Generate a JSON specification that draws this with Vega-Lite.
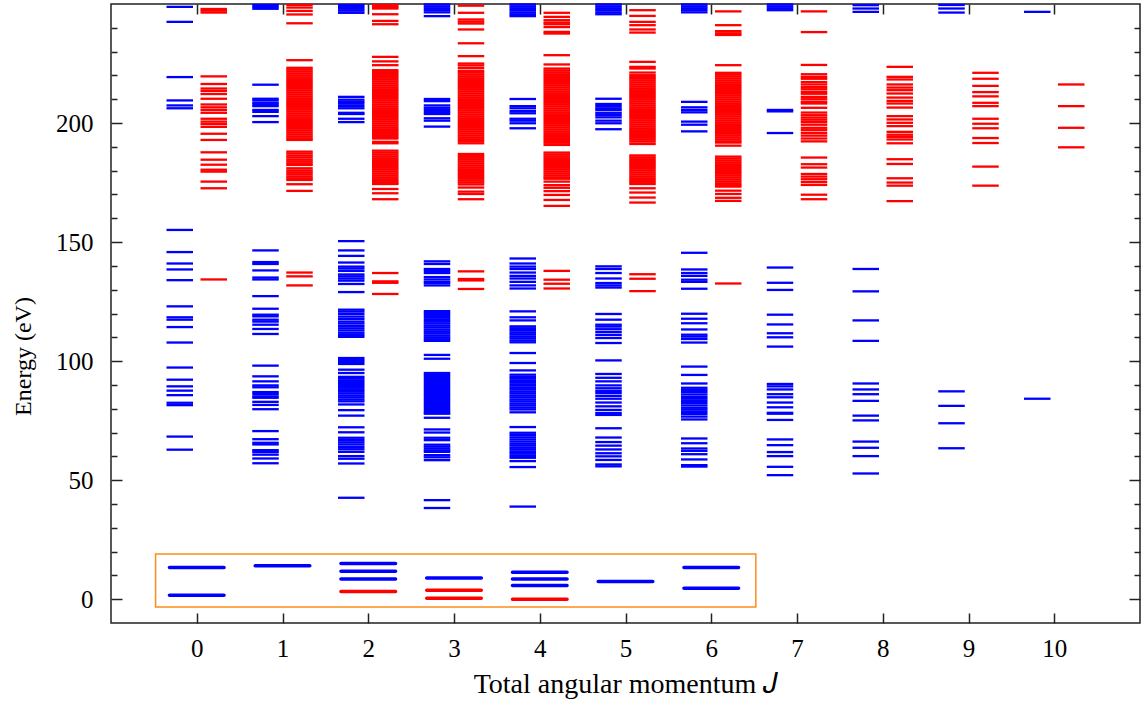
{
"$schema":"https://vega.github.io/schema/vega-lite/v6.json",
"width":1029,"height":619,
"autosize":{"type":"none"},
"padding":{"left":111,"top":4,"right":7,"bottom":81},
"config":{"view":{"stroke":"#222","strokeWidth":1.5},"font":"Liberation Serif",
"axis":{"labelFont":"Liberation Serif","titleFont":"Liberation Serif","labelFontSize":25,"titleFontSize":24,"titleFontWeight":"normal","labelColor":"#000","titleColor":"#000","tickColor":"#222","tickWidth":1.5,"domain":false,"grid":false}},
"datasets":{
"lv":[
{"J":0,"c":"b","E":248.8},{"J":0,"c":"b","E":242.5},{"J":0,"c":"b","E":219.3},{"J":0,"c":"b","E":209.5},{"J":0,"c":"b","E":207.4},{"J":0,"c":"b","E":206.2},{"J":0,"c":"b","E":155.1},{"J":0,"c":"b","E":145.8},{"J":0,"c":"b","E":141.0},{"J":0,"c":"b","E":138.5},{"J":0,"c":"b","E":134.0},{"J":0,"c":"b","E":123.0},{"J":0,"c":"b","E":118.4},{"J":0,"c":"b","E":117.4},{"J":0,"c":"b","E":114.3},{"J":0,"c":"b","E":107.8},{"J":0,"c":"b","E":97.3},{"J":0,"c":"b","E":92.2},{"J":0,"c":"b","E":89.4},{"J":0,"c":"b","E":87.6},{"J":0,"c":"b","E":85.7},{"J":0,"c":"b","E":82.5},{"J":0,"c":"b","E":81.5},{"J":0,"c":"b","E":68.3},{"J":0,"c":"b","E":62.8},
{"J":0,"c":"r","E":247.9},{"J":0,"c":"r","E":247.2},{"J":0,"c":"r","E":246.4},{"J":0,"c":"r","E":219.6},{"J":0,"c":"r","E":216.4},{"J":0,"c":"r","E":214.5},{"J":0,"c":"r","E":213.5},{"J":0,"c":"r","E":212.2},{"J":0,"c":"r","E":210.2},{"J":0,"c":"r","E":207.8},{"J":0,"c":"r","E":206.6},{"J":0,"c":"r","E":205.5},{"J":0,"c":"r","E":204.3},{"J":0,"c":"r","E":201.8},{"J":0,"c":"r","E":200.6},{"J":0,"c":"r","E":199.6},{"J":0,"c":"r","E":198.4},{"J":0,"c":"r","E":195.5},{"J":0,"c":"r","E":192.9},{"J":0,"c":"r","E":187.7},{"J":0,"c":"r","E":184.6},{"J":0,"c":"r","E":182.5},{"J":0,"c":"r","E":180.4},{"J":0,"c":"r","E":179.6},{"J":0,"c":"r","E":175.4},{"J":0,"c":"r","E":172.6},{"J":0,"c":"r","E":134.3},
{"J":1,"c":"b","E":249.6},{"J":1,"c":"b","E":248.8},{"J":1,"c":"b","E":248.0},{"J":1,"c":"b","E":216.1},{"J":1,"c":"b","E":210.2},{"J":1,"c":"b","E":209.5},{"J":1,"c":"b","E":208.5},{"J":1,"c":"b","E":207.8},{"J":1,"c":"b","E":207.1},{"J":1,"c":"b","E":205.5},{"J":1,"c":"b","E":204.7},{"J":1,"c":"b","E":202.9},{"J":1,"c":"b","E":200.4},{"J":1,"c":"b","E":146.5},{"J":1,"c":"b","E":141.6},{"J":1,"c":"b","E":140.8},{"J":1,"c":"b","E":138.1},{"J":1,"c":"b","E":135.1},{"J":1,"c":"b","E":134.3},{"J":1,"c":"b","E":127.3},{"J":1,"c":"b","E":122.0},{"J":1,"c":"b","E":119.5},{"J":1,"c":"b","E":118.8},{"J":1,"c":"b","E":117.4},{"J":1,"c":"b","E":116.6},{"J":1,"c":"b","E":115.3},{"J":1,"c":"b","E":113.5},{"J":1,"c":"b","E":111.4},{"J":1,"c":"b","E":98.1},{"J":1,"c":"b","E":93.6},{"J":1,"c":"b","E":91.5},{"J":1,"c":"b","E":89.8},{"J":1,"c":"b","E":89.0},{"J":1,"c":"b","E":87.0},{"J":1,"c":"b","E":86.2},{"J":1,"c":"b","E":85.2},{"J":1,"c":"b","E":84.6},{"J":1,"c":"b","E":82.9},{"J":1,"c":"b","E":81.6},{"J":1,"c":"b","E":79.8},{"J":1,"c":"b","E":70.6},{"J":1,"c":"b","E":67.2},{"J":1,"c":"b","E":65.7},{"J":1,"c":"b","E":65.0},{"J":1,"c":"b","E":62.6},{"J":1,"c":"b","E":61.8},{"J":1,"c":"b","E":60.7},{"J":1,"c":"b","E":59.1},{"J":1,"c":"b","E":57.1},
{"J":1,"c":"r","E":249.6},{"J":1,"c":"r","E":248.5},{"J":1,"c":"r","E":247.1},{"J":1,"c":"r","E":245.6},{"J":1,"c":"r","E":241.9},{"J":1,"c":"r","E":226.4},{"J":1,"c":"r","E":223.2},{"J":1,"c":"r","E":222.4},{"J":1,"c":"r","E":221.6},{"J":1,"c":"r","E":220.8},{"J":1,"c":"r","E":220.0},{"J":1,"c":"r","E":219.2},{"J":1,"c":"r","E":218.4},{"J":1,"c":"r","E":217.6},{"J":1,"c":"r","E":216.8},{"J":1,"c":"r","E":216.0},{"J":1,"c":"r","E":215.2},{"J":1,"c":"r","E":214.4},{"J":1,"c":"r","E":213.6},{"J":1,"c":"r","E":212.8},{"J":1,"c":"r","E":212.0},{"J":1,"c":"r","E":211.2},{"J":1,"c":"r","E":210.4},{"J":1,"c":"r","E":209.6},{"J":1,"c":"r","E":208.8},{"J":1,"c":"r","E":208.0},{"J":1,"c":"r","E":207.2},{"J":1,"c":"r","E":206.4},{"J":1,"c":"r","E":205.6},{"J":1,"c":"r","E":204.8},{"J":1,"c":"r","E":204.0},{"J":1,"c":"r","E":203.2},{"J":1,"c":"r","E":202.4},{"J":1,"c":"r","E":201.6},{"J":1,"c":"r","E":200.8},{"J":1,"c":"r","E":200.0},{"J":1,"c":"r","E":199.2},{"J":1,"c":"r","E":198.4},{"J":1,"c":"r","E":197.6},{"J":1,"c":"r","E":196.8},{"J":1,"c":"r","E":196.0},{"J":1,"c":"r","E":195.2},{"J":1,"c":"r","E":194.4},{"J":1,"c":"r","E":193.6},{"J":1,"c":"r","E":192.9},{"J":1,"c":"r","E":188.0},{"J":1,"c":"r","E":187.2},{"J":1,"c":"r","E":186.3},{"J":1,"c":"r","E":185.5},{"J":1,"c":"r","E":184.6},{"J":1,"c":"r","E":183.8},{"J":1,"c":"r","E":183.0},{"J":1,"c":"r","E":182.4},{"J":1,"c":"r","E":181.0},{"J":1,"c":"r","E":180.1},{"J":1,"c":"r","E":179.3},{"J":1,"c":"r","E":178.5},{"J":1,"c":"r","E":177.6},{"J":1,"c":"r","E":176.8},{"J":1,"c":"r","E":176.1},{"J":1,"c":"r","E":174.3},{"J":1,"c":"r","E":171.5},{"J":1,"c":"r","E":137.2},{"J":1,"c":"r","E":135.6},{"J":1,"c":"r","E":131.8},
{"J":2,"c":"b","E":249.6},{"J":2,"c":"b","E":248.8},{"J":2,"c":"b","E":248.0},{"J":2,"c":"b","E":247.2},{"J":2,"c":"b","E":246.3},{"J":2,"c":"b","E":211.0},{"J":2,"c":"b","E":209.8},{"J":2,"c":"b","E":208.9},{"J":2,"c":"b","E":208.1},{"J":2,"c":"b","E":207.1},{"J":2,"c":"b","E":206.2},{"J":2,"c":"b","E":204.3},{"J":2,"c":"b","E":203.8},{"J":2,"c":"b","E":201.8},{"J":2,"c":"b","E":200.4},{"J":2,"c":"b","E":150.4},{"J":2,"c":"b","E":146.5},{"J":2,"c":"b","E":144.2},{"J":2,"c":"b","E":141.4},{"J":2,"c":"b","E":139.7},{"J":2,"c":"b","E":138.9},{"J":2,"c":"b","E":137.9},{"J":2,"c":"b","E":136.4},{"J":2,"c":"b","E":135.6},{"J":2,"c":"b","E":134.7},{"J":2,"c":"b","E":133.8},{"J":2,"c":"b","E":132.4},{"J":2,"c":"b","E":129.0},{"J":2,"c":"b","E":121.6},{"J":2,"c":"b","E":120.8},{"J":2,"c":"b","E":119.8},{"J":2,"c":"b","E":118.7},{"J":2,"c":"b","E":117.7},{"J":2,"c":"b","E":116.6},{"J":2,"c":"b","E":115.8},{"J":2,"c":"b","E":114.8},{"J":2,"c":"b","E":113.8},{"J":2,"c":"b","E":112.9},{"J":2,"c":"b","E":111.9},{"J":2,"c":"b","E":111.0},{"J":2,"c":"b","E":110.2},{"J":2,"c":"b","E":101.3},{"J":2,"c":"b","E":100.5},{"J":2,"c":"b","E":99.7},{"J":2,"c":"b","E":98.8},{"J":2,"c":"b","E":96.4},{"J":2,"c":"b","E":95.0},{"J":2,"c":"b","E":93.4},{"J":2,"c":"b","E":92.6},{"J":2,"c":"b","E":91.7},{"J":2,"c":"b","E":90.8},{"J":2,"c":"b","E":90.0},{"J":2,"c":"b","E":89.1},{"J":2,"c":"b","E":88.2},{"J":2,"c":"b","E":87.4},{"J":2,"c":"b","E":86.5},{"J":2,"c":"b","E":85.6},{"J":2,"c":"b","E":84.8},{"J":2,"c":"b","E":83.9},{"J":2,"c":"b","E":83.1},{"J":2,"c":"b","E":81.8},{"J":2,"c":"b","E":79.4},{"J":2,"c":"b","E":77.1},{"J":2,"c":"b","E":72.2},{"J":2,"c":"b","E":70.1},{"J":2,"c":"b","E":67.8},{"J":2,"c":"b","E":66.8},{"J":2,"c":"b","E":65.9},{"J":2,"c":"b","E":65.0},{"J":2,"c":"b","E":64.0},{"J":2,"c":"b","E":63.0},{"J":2,"c":"b","E":61.9},{"J":2,"c":"b","E":60.1},{"J":2,"c":"b","E":59.0},{"J":2,"c":"b","E":57.0},{"J":2,"c":"b","E":42.6},
{"J":2,"c":"r","E":249.6},{"J":2,"c":"r","E":248.8},{"J":2,"c":"r","E":248.1},{"J":2,"c":"r","E":245.7},{"J":2,"c":"r","E":242.9},{"J":2,"c":"r","E":241.5},{"J":2,"c":"r","E":227.8},{"J":2,"c":"r","E":225.9},{"J":2,"c":"r","E":224.3},{"J":2,"c":"r","E":222.2},{"J":2,"c":"r","E":221.4},{"J":2,"c":"r","E":220.6},{"J":2,"c":"r","E":219.8},{"J":2,"c":"r","E":219.0},{"J":2,"c":"r","E":218.2},{"J":2,"c":"r","E":217.4},{"J":2,"c":"r","E":216.6},{"J":2,"c":"r","E":215.8},{"J":2,"c":"r","E":215.0},{"J":2,"c":"r","E":214.2},{"J":2,"c":"r","E":213.4},{"J":2,"c":"r","E":212.6},{"J":2,"c":"r","E":211.8},{"J":2,"c":"r","E":211.0},{"J":2,"c":"r","E":210.2},{"J":2,"c":"r","E":209.4},{"J":2,"c":"r","E":208.6},{"J":2,"c":"r","E":207.8},{"J":2,"c":"r","E":207.0},{"J":2,"c":"r","E":206.2},{"J":2,"c":"r","E":205.4},{"J":2,"c":"r","E":204.6},{"J":2,"c":"r","E":203.8},{"J":2,"c":"r","E":203.0},{"J":2,"c":"r","E":202.2},{"J":2,"c":"r","E":201.4},{"J":2,"c":"r","E":200.6},{"J":2,"c":"r","E":199.8},{"J":2,"c":"r","E":199.0},{"J":2,"c":"r","E":198.2},{"J":2,"c":"r","E":197.4},{"J":2,"c":"r","E":196.6},{"J":2,"c":"r","E":195.8},{"J":2,"c":"r","E":195.0},{"J":2,"c":"r","E":194.2},{"J":2,"c":"r","E":193.5},{"J":2,"c":"r","E":192.1},{"J":2,"c":"r","E":191.5},{"J":2,"c":"r","E":188.4},{"J":2,"c":"r","E":187.6},{"J":2,"c":"r","E":186.8},{"J":2,"c":"r","E":186.0},{"J":2,"c":"r","E":185.2},{"J":2,"c":"r","E":184.4},{"J":2,"c":"r","E":183.6},{"J":2,"c":"r","E":182.8},{"J":2,"c":"r","E":182.0},{"J":2,"c":"r","E":181.2},{"J":2,"c":"r","E":180.4},{"J":2,"c":"r","E":179.6},{"J":2,"c":"r","E":178.8},{"J":2,"c":"r","E":178.0},{"J":2,"c":"r","E":177.2},{"J":2,"c":"r","E":176.4},{"J":2,"c":"r","E":175.6},{"J":2,"c":"r","E":174.8},{"J":2,"c":"r","E":174.4},{"J":2,"c":"r","E":172.3},{"J":2,"c":"r","E":170.5},{"J":2,"c":"r","E":168.0},{"J":2,"c":"r","E":137.0},{"J":2,"c":"r","E":133.5},{"J":2,"c":"r","E":132.9},{"J":2,"c":"r","E":128.2},
{"J":3,"c":"b","E":249.8},{"J":3,"c":"b","E":249.0},{"J":3,"c":"b","E":248.2},{"J":3,"c":"b","E":247.4},{"J":3,"c":"b","E":246.5},{"J":3,"c":"b","E":244.9},{"J":3,"c":"b","E":210.1},{"J":3,"c":"b","E":209.2},{"J":3,"c":"b","E":207.4},{"J":3,"c":"b","E":206.4},{"J":3,"c":"b","E":205.5},{"J":3,"c":"b","E":204.6},{"J":3,"c":"b","E":203.8},{"J":3,"c":"b","E":202.0},{"J":3,"c":"b","E":201.0},{"J":3,"c":"b","E":198.5},{"J":3,"c":"b","E":141.9},{"J":3,"c":"b","E":140.8},{"J":3,"c":"b","E":138.7},{"J":3,"c":"b","E":137.9},{"J":3,"c":"b","E":137.0},{"J":3,"c":"b","E":135.3},{"J":3,"c":"b","E":134.3},{"J":3,"c":"b","E":133.3},{"J":3,"c":"b","E":132.8},{"J":3,"c":"b","E":131.8},{"J":3,"c":"b","E":121.0},{"J":3,"c":"b","E":120.2},{"J":3,"c":"b","E":119.4},{"J":3,"c":"b","E":118.5},{"J":3,"c":"b","E":117.6},{"J":3,"c":"b","E":116.8},{"J":3,"c":"b","E":115.9},{"J":3,"c":"b","E":115.0},{"J":3,"c":"b","E":114.2},{"J":3,"c":"b","E":113.3},{"J":3,"c":"b","E":112.5},{"J":3,"c":"b","E":111.7},{"J":3,"c":"b","E":110.8},{"J":3,"c":"b","E":110.0},{"J":3,"c":"b","E":109.2},{"J":3,"c":"b","E":108.5},{"J":3,"c":"b","E":102.6},{"J":3,"c":"b","E":101.0},{"J":3,"c":"b","E":95.0},{"J":3,"c":"b","E":94.2},{"J":3,"c":"b","E":93.4},{"J":3,"c":"b","E":92.5},{"J":3,"c":"b","E":91.7},{"J":3,"c":"b","E":90.8},{"J":3,"c":"b","E":90.0},{"J":3,"c":"b","E":89.2},{"J":3,"c":"b","E":88.3},{"J":3,"c":"b","E":87.5},{"J":3,"c":"b","E":86.6},{"J":3,"c":"b","E":85.8},{"J":3,"c":"b","E":85.0},{"J":3,"c":"b","E":84.1},{"J":3,"c":"b","E":83.3},{"J":3,"c":"b","E":82.4},{"J":3,"c":"b","E":81.6},{"J":3,"c":"b","E":80.8},{"J":3,"c":"b","E":79.9},{"J":3,"c":"b","E":79.1},{"J":3,"c":"b","E":78.3},{"J":3,"c":"b","E":77.9},{"J":3,"c":"b","E":76.2},{"J":3,"c":"b","E":71.3},{"J":3,"c":"b","E":70.0},{"J":3,"c":"b","E":67.8},{"J":3,"c":"b","E":66.8},{"J":3,"c":"b","E":64.9},{"J":3,"c":"b","E":64.1},{"J":3,"c":"b","E":63.3},{"J":3,"c":"b","E":62.5},{"J":3,"c":"b","E":61.9},{"J":3,"c":"b","E":60.5},{"J":3,"c":"b","E":59.6},{"J":3,"c":"b","E":58.4},{"J":3,"c":"b","E":41.6},{"J":3,"c":"b","E":38.3},
{"J":3,"c":"r","E":249.3},{"J":3,"c":"r","E":246.3},{"J":3,"c":"r","E":243.5},{"J":3,"c":"r","E":242.6},{"J":3,"c":"r","E":241.8},{"J":3,"c":"r","E":239.3},{"J":3,"c":"r","E":233.5},{"J":3,"c":"r","E":228.1},{"J":3,"c":"r","E":225.0},{"J":3,"c":"r","E":224.2},{"J":3,"c":"r","E":223.1},{"J":3,"c":"r","E":221.9},{"J":3,"c":"r","E":221.2},{"J":3,"c":"r","E":220.4},{"J":3,"c":"r","E":219.6},{"J":3,"c":"r","E":218.8},{"J":3,"c":"r","E":218.0},{"J":3,"c":"r","E":217.2},{"J":3,"c":"r","E":216.4},{"J":3,"c":"r","E":215.6},{"J":3,"c":"r","E":214.8},{"J":3,"c":"r","E":214.0},{"J":3,"c":"r","E":213.2},{"J":3,"c":"r","E":212.4},{"J":3,"c":"r","E":211.6},{"J":3,"c":"r","E":210.8},{"J":3,"c":"r","E":210.0},{"J":3,"c":"r","E":209.2},{"J":3,"c":"r","E":208.4},{"J":3,"c":"r","E":207.6},{"J":3,"c":"r","E":206.8},{"J":3,"c":"r","E":206.0},{"J":3,"c":"r","E":205.2},{"J":3,"c":"r","E":204.4},{"J":3,"c":"r","E":203.6},{"J":3,"c":"r","E":202.8},{"J":3,"c":"r","E":202.0},{"J":3,"c":"r","E":201.2},{"J":3,"c":"r","E":200.4},{"J":3,"c":"r","E":199.6},{"J":3,"c":"r","E":198.8},{"J":3,"c":"r","E":198.0},{"J":3,"c":"r","E":197.2},{"J":3,"c":"r","E":196.4},{"J":3,"c":"r","E":195.6},{"J":3,"c":"r","E":194.8},{"J":3,"c":"r","E":194.0},{"J":3,"c":"r","E":193.2},{"J":3,"c":"r","E":192.4},{"J":3,"c":"r","E":191.5},{"J":3,"c":"r","E":187.0},{"J":3,"c":"r","E":186.2},{"J":3,"c":"r","E":185.4},{"J":3,"c":"r","E":184.6},{"J":3,"c":"r","E":183.8},{"J":3,"c":"r","E":183.0},{"J":3,"c":"r","E":182.2},{"J":3,"c":"r","E":181.4},{"J":3,"c":"r","E":180.6},{"J":3,"c":"r","E":179.8},{"J":3,"c":"r","E":179.0},{"J":3,"c":"r","E":178.2},{"J":3,"c":"r","E":177.4},{"J":3,"c":"r","E":176.6},{"J":3,"c":"r","E":175.8},{"J":3,"c":"r","E":175.0},{"J":3,"c":"r","E":174.2},{"J":3,"c":"r","E":172.9},{"J":3,"c":"r","E":171.2},{"J":3,"c":"r","E":170.2},{"J":3,"c":"r","E":168.0},{"J":3,"c":"r","E":137.7},{"J":3,"c":"r","E":134.5},{"J":3,"c":"r","E":133.9},{"J":3,"c":"r","E":130.3},
{"J":4,"c":"b","E":249.8},{"J":4,"c":"b","E":249.0},{"J":4,"c":"b","E":248.2},{"J":4,"c":"b","E":247.4},{"J":4,"c":"b","E":246.5},{"J":4,"c":"b","E":245.7},{"J":4,"c":"b","E":244.9},{"J":4,"c":"b","E":210.1},{"J":4,"c":"b","E":207.1},{"J":4,"c":"b","E":206.2},{"J":4,"c":"b","E":205.0},{"J":4,"c":"b","E":204.1},{"J":4,"c":"b","E":201.8},{"J":4,"c":"b","E":201.0},{"J":4,"c":"b","E":199.9},{"J":4,"c":"b","E":197.8},{"J":4,"c":"b","E":143.1},{"J":4,"c":"b","E":141.0},{"J":4,"c":"b","E":139.7},{"J":4,"c":"b","E":138.7},{"J":4,"c":"b","E":137.2},{"J":4,"c":"b","E":135.8},{"J":4,"c":"b","E":134.7},{"J":4,"c":"b","E":133.3},{"J":4,"c":"b","E":131.8},{"J":4,"c":"b","E":130.5},{"J":4,"c":"b","E":120.9},{"J":4,"c":"b","E":118.4},{"J":4,"c":"b","E":117.1},{"J":4,"c":"b","E":114.6},{"J":4,"c":"b","E":113.8},{"J":4,"c":"b","E":113.0},{"J":4,"c":"b","E":112.1},{"J":4,"c":"b","E":111.3},{"J":4,"c":"b","E":110.4},{"J":4,"c":"b","E":109.6},{"J":4,"c":"b","E":108.7},{"J":4,"c":"b","E":107.9},{"J":4,"c":"b","E":103.4},{"J":4,"c":"b","E":99.2},{"J":4,"c":"b","E":96.1},{"J":4,"c":"b","E":94.3},{"J":4,"c":"b","E":93.4},{"J":4,"c":"b","E":92.6},{"J":4,"c":"b","E":91.7},{"J":4,"c":"b","E":90.9},{"J":4,"c":"b","E":89.9},{"J":4,"c":"b","E":89.0},{"J":4,"c":"b","E":88.2},{"J":4,"c":"b","E":87.3},{"J":4,"c":"b","E":86.5},{"J":4,"c":"b","E":85.6},{"J":4,"c":"b","E":84.8},{"J":4,"c":"b","E":83.9},{"J":4,"c":"b","E":83.1},{"J":4,"c":"b","E":82.2},{"J":4,"c":"b","E":81.4},{"J":4,"c":"b","E":80.5},{"J":4,"c":"b","E":79.7},{"J":4,"c":"b","E":78.5},{"J":4,"c":"b","E":72.3},{"J":4,"c":"b","E":69.9},{"J":4,"c":"b","E":69.0},{"J":4,"c":"b","E":68.0},{"J":4,"c":"b","E":67.1},{"J":4,"c":"b","E":66.2},{"J":4,"c":"b","E":65.3},{"J":4,"c":"b","E":64.5},{"J":4,"c":"b","E":63.6},{"J":4,"c":"b","E":62.8},{"J":4,"c":"b","E":61.9},{"J":4,"c":"b","E":61.1},{"J":4,"c":"b","E":60.2},{"J":4,"c":"b","E":59.4},{"J":4,"c":"b","E":58.0},{"J":4,"c":"b","E":55.5},{"J":4,"c":"b","E":38.9},
{"J":4,"c":"r","E":246.3},{"J":4,"c":"r","E":244.6},{"J":4,"c":"r","E":243.2},{"J":4,"c":"r","E":242.2},{"J":4,"c":"r","E":241.5},{"J":4,"c":"r","E":240.3},{"J":4,"c":"r","E":238.3},{"J":4,"c":"r","E":237.6},{"J":4,"c":"r","E":228.5},{"J":4,"c":"r","E":224.6},{"J":4,"c":"r","E":222.9},{"J":4,"c":"r","E":222.1},{"J":4,"c":"r","E":221.3},{"J":4,"c":"r","E":220.5},{"J":4,"c":"r","E":219.7},{"J":4,"c":"r","E":218.9},{"J":4,"c":"r","E":218.1},{"J":4,"c":"r","E":217.3},{"J":4,"c":"r","E":216.5},{"J":4,"c":"r","E":215.7},{"J":4,"c":"r","E":214.9},{"J":4,"c":"r","E":214.1},{"J":4,"c":"r","E":213.3},{"J":4,"c":"r","E":212.5},{"J":4,"c":"r","E":211.7},{"J":4,"c":"r","E":210.9},{"J":4,"c":"r","E":210.1},{"J":4,"c":"r","E":209.3},{"J":4,"c":"r","E":208.5},{"J":4,"c":"r","E":207.7},{"J":4,"c":"r","E":206.9},{"J":4,"c":"r","E":206.1},{"J":4,"c":"r","E":205.3},{"J":4,"c":"r","E":204.5},{"J":4,"c":"r","E":203.7},{"J":4,"c":"r","E":202.9},{"J":4,"c":"r","E":202.1},{"J":4,"c":"r","E":201.3},{"J":4,"c":"r","E":200.5},{"J":4,"c":"r","E":199.7},{"J":4,"c":"r","E":198.9},{"J":4,"c":"r","E":198.1},{"J":4,"c":"r","E":197.3},{"J":4,"c":"r","E":196.5},{"J":4,"c":"r","E":195.7},{"J":4,"c":"r","E":194.9},{"J":4,"c":"r","E":194.1},{"J":4,"c":"r","E":193.3},{"J":4,"c":"r","E":192.5},{"J":4,"c":"r","E":191.7},{"J":4,"c":"r","E":190.8},{"J":4,"c":"r","E":187.6},{"J":4,"c":"r","E":186.8},{"J":4,"c":"r","E":186.0},{"J":4,"c":"r","E":185.2},{"J":4,"c":"r","E":184.4},{"J":4,"c":"r","E":183.6},{"J":4,"c":"r","E":182.8},{"J":4,"c":"r","E":182.0},{"J":4,"c":"r","E":181.2},{"J":4,"c":"r","E":180.4},{"J":4,"c":"r","E":179.6},{"J":4,"c":"r","E":178.8},{"J":4,"c":"r","E":178.0},{"J":4,"c":"r","E":177.2},{"J":4,"c":"r","E":176.6},{"J":4,"c":"r","E":175.4},{"J":4,"c":"r","E":173.9},{"J":4,"c":"r","E":172.8},{"J":4,"c":"r","E":171.4},{"J":4,"c":"r","E":169.8},{"J":4,"c":"r","E":167.7},{"J":4,"c":"r","E":165.2},{"J":4,"c":"r","E":137.9},{"J":4,"c":"r","E":134.2},{"J":4,"c":"r","E":132.5},{"J":4,"c":"r","E":130.5},
{"J":5,"c":"b","E":249.8},{"J":5,"c":"b","E":249.0},{"J":5,"c":"b","E":248.2},{"J":5,"c":"b","E":247.4},{"J":5,"c":"b","E":246.5},{"J":5,"c":"b","E":245.7},{"J":5,"c":"b","E":210.2},{"J":5,"c":"b","E":208.0},{"J":5,"c":"b","E":207.1},{"J":5,"c":"b","E":206.2},{"J":5,"c":"b","E":205.5},{"J":5,"c":"b","E":204.3},{"J":5,"c":"b","E":203.4},{"J":5,"c":"b","E":202.4},{"J":5,"c":"b","E":201.0},{"J":5,"c":"b","E":199.9},{"J":5,"c":"b","E":197.4},{"J":5,"c":"b","E":139.8},{"J":5,"c":"b","E":138.7},{"J":5,"c":"b","E":137.0},{"J":5,"c":"b","E":134.7},{"J":5,"c":"b","E":132.8},{"J":5,"c":"b","E":131.8},{"J":5,"c":"b","E":130.9},{"J":5,"c":"b","E":119.8},{"J":5,"c":"b","E":117.4},{"J":5,"c":"b","E":115.3},{"J":5,"c":"b","E":114.5},{"J":5,"c":"b","E":113.4},{"J":5,"c":"b","E":112.2},{"J":5,"c":"b","E":111.0},{"J":5,"c":"b","E":109.7},{"J":5,"c":"b","E":107.6},{"J":5,"c":"b","E":100.3},{"J":5,"c":"b","E":94.6},{"J":5,"c":"b","E":93.0},{"J":5,"c":"b","E":91.5},{"J":5,"c":"b","E":89.8},{"J":5,"c":"b","E":88.6},{"J":5,"c":"b","E":87.5},{"J":5,"c":"b","E":86.6},{"J":5,"c":"b","E":85.4},{"J":5,"c":"b","E":84.2},{"J":5,"c":"b","E":82.6},{"J":5,"c":"b","E":81.0},{"J":5,"c":"b","E":79.5},{"J":5,"c":"b","E":78.2},{"J":5,"c":"b","E":77.4},{"J":5,"c":"b","E":71.8},{"J":5,"c":"b","E":67.9},{"J":5,"c":"b","E":66.0},{"J":5,"c":"b","E":64.5},{"J":5,"c":"b","E":62.9},{"J":5,"c":"b","E":61.3},{"J":5,"c":"b","E":60.0},{"J":5,"c":"b","E":58.5},{"J":5,"c":"b","E":56.6},{"J":5,"c":"b","E":55.8},
{"J":5,"c":"r","E":247.4},{"J":5,"c":"r","E":245.0},{"J":5,"c":"r","E":242.5},{"J":5,"c":"r","E":241.1},{"J":5,"c":"r","E":239.3},{"J":5,"c":"r","E":238.0},{"J":5,"c":"r","E":225.7},{"J":5,"c":"r","E":223.6},{"J":5,"c":"r","E":222.9},{"J":5,"c":"r","E":221.2},{"J":5,"c":"r","E":220.1},{"J":5,"c":"r","E":219.4},{"J":5,"c":"r","E":218.6},{"J":5,"c":"r","E":217.8},{"J":5,"c":"r","E":217.0},{"J":5,"c":"r","E":216.2},{"J":5,"c":"r","E":215.4},{"J":5,"c":"r","E":214.6},{"J":5,"c":"r","E":213.8},{"J":5,"c":"r","E":213.0},{"J":5,"c":"r","E":212.2},{"J":5,"c":"r","E":211.4},{"J":5,"c":"r","E":210.6},{"J":5,"c":"r","E":209.8},{"J":5,"c":"r","E":209.0},{"J":5,"c":"r","E":208.2},{"J":5,"c":"r","E":207.4},{"J":5,"c":"r","E":206.6},{"J":5,"c":"r","E":205.8},{"J":5,"c":"r","E":205.0},{"J":5,"c":"r","E":204.2},{"J":5,"c":"r","E":203.4},{"J":5,"c":"r","E":202.6},{"J":5,"c":"r","E":201.8},{"J":5,"c":"r","E":201.0},{"J":5,"c":"r","E":200.2},{"J":5,"c":"r","E":199.4},{"J":5,"c":"r","E":198.6},{"J":5,"c":"r","E":197.8},{"J":5,"c":"r","E":197.0},{"J":5,"c":"r","E":196.2},{"J":5,"c":"r","E":195.4},{"J":5,"c":"r","E":194.6},{"J":5,"c":"r","E":193.8},{"J":5,"c":"r","E":193.0},{"J":5,"c":"r","E":192.2},{"J":5,"c":"r","E":191.2},{"J":5,"c":"r","E":186.4},{"J":5,"c":"r","E":185.6},{"J":5,"c":"r","E":184.8},{"J":5,"c":"r","E":184.0},{"J":5,"c":"r","E":183.2},{"J":5,"c":"r","E":182.4},{"J":5,"c":"r","E":181.6},{"J":5,"c":"r","E":180.8},{"J":5,"c":"r","E":180.0},{"J":5,"c":"r","E":179.2},{"J":5,"c":"r","E":178.4},{"J":5,"c":"r","E":177.6},{"J":5,"c":"r","E":176.8},{"J":5,"c":"r","E":176.0},{"J":5,"c":"r","E":175.2},{"J":5,"c":"r","E":174.4},{"J":5,"c":"r","E":172.6},{"J":5,"c":"r","E":170.8},{"J":5,"c":"r","E":168.7},{"J":5,"c":"r","E":166.6},{"J":5,"c":"r","E":136.5},{"J":5,"c":"r","E":134.6},{"J":5,"c":"r","E":129.4},
{"J":6,"c":"b","E":249.8},{"J":6,"c":"b","E":249.0},{"J":6,"c":"b","E":248.2},{"J":6,"c":"b","E":247.4},{"J":6,"c":"b","E":246.5},{"J":6,"c":"b","E":208.9},{"J":6,"c":"b","E":206.6},{"J":6,"c":"b","E":205.5},{"J":6,"c":"b","E":204.5},{"J":6,"c":"b","E":200.6},{"J":6,"c":"b","E":199.3},{"J":6,"c":"b","E":196.5},{"J":6,"c":"b","E":145.5},{"J":6,"c":"b","E":138.5},{"J":6,"c":"b","E":137.0},{"J":6,"c":"b","E":135.8},{"J":6,"c":"b","E":134.2},{"J":6,"c":"b","E":133.3},{"J":6,"c":"b","E":130.4},{"J":6,"c":"b","E":119.9},{"J":6,"c":"b","E":117.8},{"J":6,"c":"b","E":115.9},{"J":6,"c":"b","E":113.3},{"J":6,"c":"b","E":111.1},{"J":6,"c":"b","E":110.3},{"J":6,"c":"b","E":109.3},{"J":6,"c":"b","E":107.8},{"J":6,"c":"b","E":97.7},{"J":6,"c":"b","E":94.2},{"J":6,"c":"b","E":90.6},{"J":6,"c":"b","E":88.8},{"J":6,"c":"b","E":87.9},{"J":6,"c":"b","E":87.0},{"J":6,"c":"b","E":86.0},{"J":6,"c":"b","E":85.0},{"J":6,"c":"b","E":84.2},{"J":6,"c":"b","E":83.3},{"J":6,"c":"b","E":82.4},{"J":6,"c":"b","E":81.4},{"J":6,"c":"b","E":80.4},{"J":6,"c":"b","E":79.6},{"J":6,"c":"b","E":78.7},{"J":6,"c":"b","E":77.8},{"J":6,"c":"b","E":76.7},{"J":6,"c":"b","E":75.5},{"J":6,"c":"b","E":67.5},{"J":6,"c":"b","E":65.5},{"J":6,"c":"b","E":63.3},{"J":6,"c":"b","E":62.3},{"J":6,"c":"b","E":60.9},{"J":6,"c":"b","E":58.7},{"J":6,"c":"b","E":56.3},{"J":6,"c":"b","E":55.7},
{"J":6,"c":"r","E":246.9},{"J":6,"c":"r","E":241.1},{"J":6,"c":"r","E":238.6},{"J":6,"c":"r","E":237.7},{"J":6,"c":"r","E":237.0},{"J":6,"c":"r","E":224.3},{"J":6,"c":"r","E":221.1},{"J":6,"c":"r","E":220.3},{"J":6,"c":"r","E":219.5},{"J":6,"c":"r","E":218.7},{"J":6,"c":"r","E":217.9},{"J":6,"c":"r","E":217.1},{"J":6,"c":"r","E":216.3},{"J":6,"c":"r","E":215.5},{"J":6,"c":"r","E":214.7},{"J":6,"c":"r","E":213.9},{"J":6,"c":"r","E":213.1},{"J":6,"c":"r","E":212.3},{"J":6,"c":"r","E":211.5},{"J":6,"c":"r","E":210.7},{"J":6,"c":"r","E":209.9},{"J":6,"c":"r","E":209.1},{"J":6,"c":"r","E":208.3},{"J":6,"c":"r","E":207.5},{"J":6,"c":"r","E":206.7},{"J":6,"c":"r","E":205.9},{"J":6,"c":"r","E":205.1},{"J":6,"c":"r","E":204.3},{"J":6,"c":"r","E":203.5},{"J":6,"c":"r","E":202.7},{"J":6,"c":"r","E":201.9},{"J":6,"c":"r","E":201.1},{"J":6,"c":"r","E":200.3},{"J":6,"c":"r","E":199.5},{"J":6,"c":"r","E":198.7},{"J":6,"c":"r","E":197.9},{"J":6,"c":"r","E":197.1},{"J":6,"c":"r","E":196.3},{"J":6,"c":"r","E":195.5},{"J":6,"c":"r","E":194.7},{"J":6,"c":"r","E":193.9},{"J":6,"c":"r","E":193.1},{"J":6,"c":"r","E":192.3},{"J":6,"c":"r","E":191.8},{"J":6,"c":"r","E":190.5},{"J":6,"c":"r","E":185.9},{"J":6,"c":"r","E":185.1},{"J":6,"c":"r","E":184.3},{"J":6,"c":"r","E":183.5},{"J":6,"c":"r","E":182.7},{"J":6,"c":"r","E":181.9},{"J":6,"c":"r","E":181.1},{"J":6,"c":"r","E":180.3},{"J":6,"c":"r","E":179.5},{"J":6,"c":"r","E":178.7},{"J":6,"c":"r","E":177.9},{"J":6,"c":"r","E":177.1},{"J":6,"c":"r","E":176.3},{"J":6,"c":"r","E":175.5},{"J":6,"c":"r","E":174.7},{"J":6,"c":"r","E":173.9},{"J":6,"c":"r","E":173.3},{"J":6,"c":"r","E":171.6},{"J":6,"c":"r","E":170.2},{"J":6,"c":"r","E":168.6},{"J":6,"c":"r","E":167.3},{"J":6,"c":"r","E":132.6},
{"J":7,"c":"b","E":249.8},{"J":7,"c":"b","E":249.0},{"J":7,"c":"b","E":248.2},{"J":7,"c":"b","E":247.4},{"J":7,"c":"b","E":205.5},{"J":7,"c":"b","E":204.9},{"J":7,"c":"b","E":195.8},{"J":7,"c":"b","E":139.3},{"J":7,"c":"b","E":132.9},{"J":7,"c":"b","E":129.9},{"J":7,"c":"b","E":119.5},{"J":7,"c":"b","E":115.4},{"J":7,"c":"b","E":111.7},{"J":7,"c":"b","E":110.0},{"J":7,"c":"b","E":106.1},{"J":7,"c":"b","E":90.4},{"J":7,"c":"b","E":89.4},{"J":7,"c":"b","E":88.1},{"J":7,"c":"b","E":86.1},{"J":7,"c":"b","E":84.8},{"J":7,"c":"b","E":82.6},{"J":7,"c":"b","E":80.6},{"J":7,"c":"b","E":78.3},{"J":7,"c":"b","E":77.9},{"J":7,"c":"b","E":75.3},{"J":7,"c":"b","E":67.1},{"J":7,"c":"b","E":64.7},{"J":7,"c":"b","E":61.8},{"J":7,"c":"b","E":60.1},{"J":7,"c":"b","E":55.6},{"J":7,"c":"b","E":52.1},
{"J":7,"c":"r","E":246.9},{"J":7,"c":"r","E":238.2},{"J":7,"c":"r","E":224.4},{"J":7,"c":"r","E":220.5},{"J":7,"c":"r","E":219.4},{"J":7,"c":"r","E":218.6},{"J":7,"c":"r","E":217.2},{"J":7,"c":"r","E":216.2},{"J":7,"c":"r","E":215.1},{"J":7,"c":"r","E":214.2},{"J":7,"c":"r","E":213.1},{"J":7,"c":"r","E":212.3},{"J":7,"c":"r","E":211.0},{"J":7,"c":"r","E":210.0},{"J":7,"c":"r","E":208.9},{"J":7,"c":"r","E":208.2},{"J":7,"c":"r","E":206.4},{"J":7,"c":"r","E":204.4},{"J":7,"c":"r","E":203.3},{"J":7,"c":"r","E":202.3},{"J":7,"c":"r","E":201.4},{"J":7,"c":"r","E":200.4},{"J":7,"c":"r","E":199.3},{"J":7,"c":"r","E":198.0},{"J":7,"c":"r","E":197.0},{"J":7,"c":"r","E":195.8},{"J":7,"c":"r","E":194.7},{"J":7,"c":"r","E":193.5},{"J":7,"c":"r","E":192.3},{"J":7,"c":"r","E":185.5},{"J":7,"c":"r","E":182.7},{"J":7,"c":"r","E":181.3},{"J":7,"c":"r","E":178.6},{"J":7,"c":"r","E":177.5},{"J":7,"c":"r","E":176.4},{"J":7,"c":"r","E":175.2},{"J":7,"c":"r","E":174.0},{"J":7,"c":"r","E":169.9},{"J":7,"c":"r","E":168.0},
{"J":8,"c":"b","E":249.5},{"J":8,"c":"b","E":248.1},{"J":8,"c":"b","E":246.7},{"J":8,"c":"b","E":138.7},{"J":8,"c":"b","E":129.3},{"J":8,"c":"b","E":117.1},{"J":8,"c":"b","E":108.5},{"J":8,"c":"b","E":90.6},{"J":8,"c":"b","E":88.1},{"J":8,"c":"b","E":86.1},{"J":8,"c":"b","E":83.3},{"J":8,"c":"b","E":77.1},{"J":8,"c":"b","E":75.1},{"J":8,"c":"b","E":66.2},{"J":8,"c":"b","E":63.6},{"J":8,"c":"b","E":60.1},{"J":8,"c":"b","E":52.8},
{"J":8,"c":"r","E":223.6},{"J":8,"c":"r","E":219.4},{"J":8,"c":"r","E":218.3},{"J":8,"c":"r","E":216.2},{"J":8,"c":"r","E":214.9},{"J":8,"c":"r","E":213.8},{"J":8,"c":"r","E":212.4},{"J":8,"c":"r","E":210.7},{"J":8,"c":"r","E":209.3},{"J":8,"c":"r","E":208.2},{"J":8,"c":"r","E":206.5},{"J":8,"c":"r","E":202.9},{"J":8,"c":"r","E":201.5},{"J":8,"c":"r","E":200.1},{"J":8,"c":"r","E":198.7},{"J":8,"c":"r","E":196.3},{"J":8,"c":"r","E":195.1},{"J":8,"c":"r","E":194.2},{"J":8,"c":"r","E":193.1},{"J":8,"c":"r","E":191.5},{"J":8,"c":"r","E":184.8},{"J":8,"c":"r","E":182.8},{"J":8,"c":"r","E":176.8},{"J":8,"c":"r","E":175.0},{"J":8,"c":"r","E":173.7},{"J":8,"c":"r","E":167.2},
{"J":9,"c":"b","E":249.6},{"J":9,"c":"b","E":248.1},{"J":9,"c":"b","E":246.4},{"J":9,"c":"b","E":87.3},{"J":9,"c":"b","E":81.2},{"J":9,"c":"b","E":73.9},{"J":9,"c":"b","E":63.4},
{"J":9,"c":"r","E":221.1},{"J":9,"c":"r","E":218.6},{"J":9,"c":"r","E":215.6},{"J":9,"c":"r","E":213.0},{"J":9,"c":"r","E":211.2},{"J":9,"c":"r","E":208.5},{"J":9,"c":"r","E":207.1},{"J":9,"c":"r","E":201.8},{"J":9,"c":"r","E":199.7},{"J":9,"c":"r","E":197.8},{"J":9,"c":"r","E":193.7},{"J":9,"c":"r","E":191.6},{"J":9,"c":"r","E":181.7},{"J":9,"c":"r","E":173.7},
{"J":10,"c":"b","E":246.7},{"J":10,"c":"b","E":84.2},
{"J":10,"c":"r","E":216.2},{"J":10,"c":"r","E":207.1},{"J":10,"c":"r","E":198.0},{"J":10,"c":"r","E":189.8}
],
"low":[
{"J":0,"c":"b","E":13.3},{"J":0,"c":"b","E":1.7},{"J":1,"c":"b","E":14.0},{"J":2,"c":"b","E":15.0},{"J":2,"c":"b","E":11.7},{"J":2,"c":"b","E":8.5},{"J":2,"c":"r","E":3.2},{"J":3,"c":"b","E":8.9},{"J":3,"c":"r","E":3.8},{"J":3,"c":"r","E":0.4},{"J":4,"c":"b","E":11.3},{"J":4,"c":"b","E":8.5},{"J":4,"c":"b","E":5.7},{"J":4,"c":"r","E":0.0},{"J":5,"c":"b","E":7.4},{"J":6,"c":"b","E":13.3},{"J":6,"c":"b","E":4.6}
],
"frame":[{"x1":-0.48,"x2":6.52,"y1":-3.3,"y2":19}]
},
"layer":[
{"data":{"name":"frame"},
 "mark":{"type":"rect","fill":null,"fillOpacity":0,"stroke":"#ff8c1a","strokeWidth":1.5},
 "encoding":{
  "x":{"field":"x1","type":"quantitative","scale":{"domain":[-1,11],"nice":false,"zero":false},"axis":{"orient":"bottom","values":[0,1,2,3,4,5,6,7,8,9,10],"tickSize":-10,"labels":false,"title":null}},
  "x2":{"field":"x2"},
  "y":{"field":"y1","type":"quantitative","scale":{"domain":[-10,250],"nice":false,"zero":false},"axis":{"orient":"left","values":[0,50,100,150,200],"tickSize":-11,"labels":false,"title":null}},
  "y2":{"field":"y2"}}},
{"data":{"name":"lv"},"transform":[{"filter":"datum.c=='b'"}],
 "mark":{"type":"tick","orient":"horizontal","size":26.5,"thickness":2.3,"color":"#0000ff","opacity":1,"xOffset":-17},
 "encoding":{
  "x":{"field":"J","type":"quantitative","scale":{"domain":[-1,11],"nice":false,"zero":false},"axis":{"orient":"bottom","values":[0,1,2,3,4,5,6,7,8,9,10],"ticks":false,"labelPadding":13,"title":"Total angular momentum 𝐽","titleFontSize":28,"titlePadding":9}},
  "y":{"field":"E","type":"quantitative","scale":{"domain":[-10,250],"nice":false,"zero":false},"axis":{"orient":"left","values":[0,50,100,150,200],"ticks":false,"labelPadding":18,"title":"Energy (eV)","titleX":-76,"titleY":352}}}},
{"data":{"name":"lv"},"transform":[{"filter":"datum.c=='r'"}],
 "mark":{"type":"tick","orient":"horizontal","size":26.5,"thickness":2.3,"color":"#ff0000","opacity":1,"xOffset":17},
 "encoding":{
  "x":{"field":"J","type":"quantitative","scale":{"domain":[-1,11],"nice":false,"zero":false},"axis":{"orient":"top","values":[0,1,2,3,4,5,6,7,8,9,10],"tickSize":-10,"labels":false,"title":null}},
  "y":{"field":"E","type":"quantitative","scale":{"domain":[-10,250],"nice":false,"zero":false},"axis":{"orient":"right","values":[0,50,100,150,200],"tickSize":-11,"labels":false,"title":null}}}},
{"data":{"name":"low"},"transform":[{"filter":"datum.c=='b'"}],
 "mark":{"type":"tick","orient":"horizontal","size":58,"thickness":3.5,"cornerRadius":1.75,"color":"#0000ff","opacity":1},
 "encoding":{
  "x":{"field":"J","type":"quantitative","scale":{"domain":[-1,11],"nice":false,"zero":false},"axis":null},
  "y":{"field":"E","type":"quantitative","scale":{"domain":[-10,250],"nice":false,"zero":false},"axis":{"orient":"left","values":[10,20,30,40,60,70,80,90,110,120,130,140,160,170,180,190,210,220,230,240],"tickSize":-6,"labels":false,"title":null}}}},
{"data":{"name":"low"},"transform":[{"filter":"datum.c=='r'"}],
 "mark":{"type":"tick","orient":"horizontal","size":58,"thickness":3.5,"cornerRadius":1.75,"color":"#ff0000","opacity":1},
 "encoding":{
  "x":{"field":"J","type":"quantitative","scale":{"domain":[-1,11],"nice":false,"zero":false},"axis":null},
  "y":{"field":"E","type":"quantitative","scale":{"domain":[-10,250],"nice":false,"zero":false},"axis":{"orient":"right","values":[10,20,30,40,60,70,80,90,110,120,130,140,160,170,180,190,210,220,230,240],"tickSize":-6,"labels":false,"title":null}}}}
],
"resolve":{"axis":{"x":"independent","y":"independent"}}
}
